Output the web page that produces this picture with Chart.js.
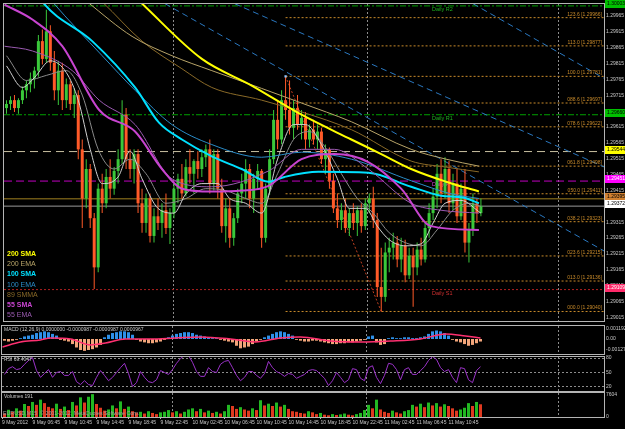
<!DOCTYPE html>
<html>
<head>
<meta charset="utf-8">
<script src="https://cdn.jsdelivr.net/npm/chart.js@4.4.0/dist/chart.umd.min.js"></script>
<style>
  html, body { margin: 0; padding: 0; background: #000; }
  body { width: 625px; height: 429px; position: relative; overflow: hidden; }
  .pane { position: absolute; left: 0; width: 625px; }
</style>
</head>
<body>
<div class="pane" style="top:0;height:325px"><canvas id="main"></canvas></div>
<div class="pane" style="top:325px;height:30px"><canvas id="macd"></canvas></div>
<div class="pane" style="top:355px;height:37px"><canvas id="rsi"></canvas></div>
<div class="pane" style="top:392px;height:37px"><canvas id="vol"></canvas></div>
<script>
// ---- price data (EURUSD, one candle per slot) ----
const open = [
  1.29681,1.29694,1.29706,1.29681,1.29706,1.29737,1.29756,1.29774,1.29799,1.29892,
  1.29836,1.29923,1.29824,1.29737,1.29799,1.29706,1.29756,1.29694,1.29722,1.29551,
  1.29396,1.29489,1.29334,1.29179,1.29427,1.29381,1.29464,1.29427,1.29483,1.29520,
  1.29660,1.29520,1.29489,1.29536,1.29381,1.29319,1.29396,1.29278,1.29340,1.29319,
  1.29359,1.29303,1.29350,1.29427,1.29458,1.29412,1.29495,1.29474,1.29514,1.29489,
  1.29526,1.29551,1.29443,1.29536,1.29427,1.29309,1.29365,1.29272,1.29334,1.29412,
  1.29443,1.29489,1.29396,1.29458,1.29483,1.29272,1.29427,1.29520,1.29644,1.29582,
  1.29706,1.29675,1.29619,1.29681,1.29629,1.29650,1.29582,1.29613,1.29582,1.29607,
  1.29520,1.29551,1.29452,1.29365,1.29328,1.29359,1.29303,1.29350,1.29319,1.29359,
  1.29309,1.29381,1.29396,1.29328,1.29117,1.29086,1.29226,1.29241,1.29257,1.29204,
  1.29247,1.29154,1.29216,1.29179,1.29235,1.29204,1.29303,1.29350,1.29402,1.29474,
  1.29412,1.29489,1.29381,1.29443,1.29340,1.29427,1.29257,1.29297,1.29381,1.29350
];
const high = [
  1.29706,1.29718,1.29722,1.29712,1.29749,1.29768,1.29793,1.29811,1.29911,1.29929,
  1.29991,1.29942,1.29861,1.29830,1.29824,1.29774,1.29768,1.29743,1.29737,1.29582,
  1.29520,1.29505,1.29350,1.29443,1.29474,1.29489,1.29520,1.29495,1.29551,1.29706,
  1.29681,1.29551,1.29551,1.29551,1.29427,1.29412,1.29412,1.29365,1.29396,1.29381,
  1.29412,1.29365,1.29443,1.29474,1.29505,1.29520,1.29551,1.29520,1.29545,1.29551,
  1.29566,1.29582,1.29551,1.29551,1.29458,1.29396,1.29396,1.29350,1.29427,1.29474,
  1.29520,1.29505,1.29474,1.29505,1.29489,1.29443,1.29551,1.29675,1.29706,1.29737,
  1.29781,1.29768,1.29706,1.29722,1.29675,1.29669,1.29629,1.29644,1.29629,1.29619,
  1.29566,1.29557,1.29474,1.29412,1.29381,1.29396,1.29365,1.29381,1.29371,1.29381,
  1.29396,1.29412,1.29433,1.29350,1.29241,1.29257,1.29272,1.29288,1.29278,1.29272,
  1.29266,1.29241,1.29241,1.29257,1.29272,1.29319,1.29381,1.29427,1.29505,1.29520,
  1.29526,1.29514,1.29474,1.29489,1.29443,1.29489,1.29319,1.29412,1.29396,1.29396
];
const low = [
  1.29663,1.29675,1.29669,1.29663,1.29694,1.29712,1.29731,1.29743,1.29780,1.29818,
  1.29824,1.29799,1.29706,1.29691,1.29675,1.29681,1.29675,1.29650,1.29520,1.29303,
  1.29365,1.29303,1.29111,1.29164,1.29350,1.29365,1.29396,1.29408,1.29443,1.29505,
  1.29489,1.29458,1.29443,1.29350,1.29288,1.29288,1.29257,1.29257,1.29297,1.29272,
  1.29284,1.29253,1.29334,1.29381,1.29396,1.29402,1.29443,1.29412,1.29458,1.29464,
  1.29495,1.29412,1.29421,1.29396,1.29288,1.29257,1.29241,1.29247,1.29319,1.29381,
  1.29396,1.29365,1.29350,1.29427,1.29241,1.29257,1.29408,1.29505,1.29551,1.29567,
  1.29644,1.29598,1.29582,1.29613,1.29582,1.29551,1.29557,1.29567,1.29551,1.29505,
  1.29474,1.29427,1.29350,1.29303,1.29297,1.29288,1.29278,1.29297,1.29278,1.29288,
  1.29297,1.29350,1.29303,1.29086,1.29040,1.29071,1.29164,1.29204,1.29179,1.29164,
  1.29132,1.29142,1.29055,1.29154,1.29185,1.29194,1.29272,1.29328,1.29365,1.29381,
  1.29396,1.29350,1.29359,1.29319,1.29328,1.29226,1.29194,1.29278,1.29319,1.29340
];
const close = [
  1.29694,1.29706,1.29681,1.29706,1.29737,1.29756,1.29774,1.29799,1.29892,1.29836,
  1.29923,1.29824,1.29737,1.29799,1.29706,1.29756,1.29694,1.29722,1.29551,1.29396,
  1.29489,1.29334,1.29179,1.29427,1.29381,1.29464,1.29427,1.29483,1.29520,1.29660,
  1.29520,1.29489,1.29536,1.29381,1.29319,1.29396,1.29278,1.29340,1.29319,1.29359,
  1.29303,1.29350,1.29427,1.29458,1.29412,1.29495,1.29474,1.29514,1.29489,1.29526,
  1.29551,1.29443,1.29536,1.29427,1.29309,1.29365,1.29272,1.29334,1.29412,1.29443,
  1.29489,1.29396,1.29458,1.29483,1.29272,1.29427,1.29520,1.29644,1.29582,1.29706,
  1.29675,1.29619,1.29681,1.29629,1.29650,1.29582,1.29613,1.29582,1.29607,1.29520,
  1.29551,1.29452,1.29365,1.29328,1.29359,1.29303,1.29350,1.29319,1.29359,1.29309,
  1.29381,1.29396,1.29328,1.29117,1.29086,1.29226,1.29241,1.29257,1.29204,1.29247,
  1.29154,1.29216,1.29179,1.29235,1.29204,1.29303,1.29350,1.29402,1.29474,1.29412,
  1.29489,1.29381,1.29443,1.29340,1.29427,1.29257,1.29297,1.29381,1.29350,1.29372
];
const volume = [
  1200,2500,1800,3000,2200,4500,3800,5200,4200,6000,4800,3500,
  3000,4600,2800,3600,2400,5200,4000,6800,5000,7000,7900,4500,
  3200,2200,2600,4000,3000,5400,2800,3600,2000,
  1500,1800,1200,2000,1400,1000,1600,1800,2400,1600,2000,1200,1800,2600,
  3000,2000,2800,1600,2200,1400,1800,1200,2000,4200,
  3800,2800,3400,2600,2200,3000,2400,5800,4000,
  4600,3800,5000,3600,4200,2800,2000,1800,1400,1200,2000,1600,1000,1400,
  800,600,1000,700,900,1200,800,600,1000,1400,2400,4200,3000,6000,
  2600,1800,1400,2200,1600,1200,2000,2400,4200,3600,4600,3400,
  5000,4000,4800,3600,4400,3800,3000,2200,2600,3200,4800,3800,5200,4400
];
const macdHist = [
  -0.0002,-0.0003,-0.0002,-0.0001,
  0.0001,0.0003,0.0004,0.0005,0.0007,0.0008,0.0009,0.0008,0.0006,0.0004,
  -0.0001,-0.0002,-0.0003,-0.0006,-0.0010,-0.0013,-0.0014,-0.0013,-0.0012,-0.0010,-0.0007,
  0.0002,0.0005,0.0007,0.0008,0.0009,0.0009,0.0008,0.0005,
  -0.0001,-0.0003,-0.0004,-0.0005,-0.0005,-0.0004,-0.0003,-0.0001,
  0.0002,0.0004,0.0006,0.0007,0.0008,0.0008,0.0007,0.0005,0.0004,0.0003,
  0.0002,0.0001,0.0001,-0.0001,-0.0002,-0.0003,
  -0.0004,-0.0008,-0.0011,-0.0010,-0.0009,-0.0006,-0.0003,-0.0001,
  0.0002,0.0004,0.0006,0.0008,0.0009,0.0008,0.0006,0.0004,
  -0.0001,-0.0002,-0.0003,-0.0003,-0.0002,-0.0002,-0.0003,
  -0.0004,-0.0005,-0.0006,-0.0006,-0.0005,-0.0005,-0.0004,-0.0004,-0.0003,-0.0002,-0.0001,
  0.0003,0.0004,-0.0004,-0.0007,-0.0006,
  0.0001,0.0002,0.0001,0.0001,0.0002,0.0002,0.0001,0.0001,0.0002,0.0003,
  0.0006,0.0009,0.0010,0.0009,0.0007,0.0004,
  -0.0001,-0.0003,-0.0004,-0.0006,-0.0008,-0.0007,-0.0005,-0.0003
];
const macdSignal = [[-0.5,-0.00094],[4,-0.00035],[9,-0.00012],[11.5,0.00012],[16.5,0],[21.5,-0.00071],
  [25.25,-0.00047],[30.25,0],[36.5,0],[42.75,0.00012],[49,0.00024],[56.5,0],[62.75,-0.00035],[69,0.00012],
  [74,0.00024],[81.5,-0.00024],[89,-0.00035],[96.5,-0.00024],[104,0],[110.25,0.00059],[115.25,0.00035],[119,0.00012]];
const rsi = [
  46,58,62,56,58,67,75,81,54,40,48,56,40,50,52,44,44,52,31,25,
  33,25,23,40,54,44,33,40,50,60,69,48,21,29,52,40,31,29,35,54,
  50,46,56,69,79,85,85,71,52,42,42,60,52,50,67,73,75,60,44,33,
  40,52,52,44,38,48,73,60,52,48,42,48,46,38,42,46,54,56,54,46,
  38,23,33,50,40,29,35,58,56,38,33,60,64,40,27,44,69,67,56,35,
  56,60,46,46,54,62,75,83,77,60,52,56,40,29,60,58,35,29,54,62
];

// ---- moving averages, sampled along the bar axis: [bar, price] ----
const sma200 = [[28,1.30080],[33.5,1.30016],[49,1.29836],[61.5,1.29752],[74,1.29660],[86.5,1.29582],[94,1.29536],[101.5,1.29489],[110.25,1.29449],[118.5,1.29418]];
const ema200 = [[16,1.30060],[20.25,1.30016],[31.5,1.29907],[41.5,1.29846],[51.5,1.29799],[64,1.29743],[74,1.29697],[86.5,1.29638],[101.5,1.29551],[110.25,1.29520],[118.5,1.29498]];
const smma89 = [[20,1.30060],[24,1.30016],[34,1.29892],[44,1.29805],[51.5,1.29746],[64,1.29706],[74,1.29669],[86.5,1.29613],[101.5,1.29514],[110.25,1.29495],[118.5,1.29480]];
const sma100 = [[6,1.30080],[9,1.30016],[21.5,1.29892],[32.25,1.29746],[38.25,1.29635],[44,1.29582],[51.5,1.29529],[59,1.29489],[65.75,1.29449],[69.75,1.29464],[78.25,1.29480],[90.75,1.29477],[101.5,1.29433],[109,1.29405],[114.5,1.29399],[118.5,1.29381]];
const ema100 = [[8,1.30070],[11.5,1.30016],[24,1.29846],[32.25,1.29737],[41.5,1.29629],[51.5,1.29566],[64,1.29526],[74,1.29542],[86.5,1.29520],[101.5,1.29452],[111.5,1.29411],[118.5,1.29396]];
const sma55 = [[-0.5,1.30007],[6.5,1.29960],[14,1.29876],[23.25,1.29675],[32.25,1.29607],[39,1.29489],[44,1.29427],[51.5,1.29418],[59,1.29421],[65.75,1.29436],[74,1.29520],[82.25,1.29536],[90.75,1.29511],[99,1.29427],[106.5,1.29309],[118.5,1.29297]];
const ema55 = [[-0.5,1.29876],[6.5,1.29861],[16.5,1.29799],[23.25,1.29706],[32.25,1.29629],[41.5,1.29458],[51.5,1.29433],[65.75,1.29483],[74,1.29551],[82.25,1.29551],[90.75,1.29489],[101.5,1.29381],[109,1.29359],[118.5,1.29350]];
const fastA = [[0,1.29814],[4,1.29746],[7,1.29777],[11,1.29830],[15,1.29793],[18,1.29706],[21,1.29551],[24,1.29443],[28,1.29464],[31,1.29545],[34,1.29458],[38,1.29365],[42,1.29350],[45,1.29411],[49,1.29443],[53,1.29443],[56,1.29396],[60,1.29381],[64,1.29350],[68,1.29520],[72,1.29629],[75,1.29629],[79,1.29566],[83,1.29458],[86,1.29365],[90,1.29365],[93,1.29309],[96,1.29266],[100,1.29247],[104,1.29253],[107,1.29319],[110,1.29381],[114,1.29390],[119,1.29350]];
const fastB = [[0,1.29846],[5,1.29768],[10,1.29784],[15,1.29799],[19,1.29722],[23,1.29551],[27,1.29489],[31,1.29520],[35,1.29474],[40,1.29381],[45,1.29396],[50,1.29427],[55,1.29421],[60,1.29396],[64,1.29381],[68,1.29474],[72,1.29582],[76,1.29607],[80,1.29557],[84,1.29474],[88,1.29396],[92,1.29350],[96,1.29288],[100,1.29257],[104,1.29247],[108,1.29297],[112,1.29359],[116,1.29381],[119,1.29371]];

// ---- drawn objects ----
const trendA = [[39.75,1.30010],[150,1.29230]];
const trendB = [[57.25,1.30010],[150,1.29495]];
const trendC = [[117,1.30010],[150,1.29774]];
const fibFrom = 70;
const fibDiag = [[70,1.29781],[94,1.29040]];
const fibLabels = ['123.6','113.0','100.0','088.6','078.6','061.8','050.0','038.2','023.6','013.0','000.0'];
const fibPrices = [1.29966,1.29877,1.29781,1.29697,1.29622,1.29498,1.29411,1.29323,1.29215,1.29136,1.29040];
const levelNames  = ['Daily R2','Daily R1','','Daily P','','','Daily S1'];
const levelPrices = [1.30003,1.29660,1.29544,1.29451,1.29395,1.29372,1.29109];

// ---- axes ----
const priceTicks = [1.29965,1.29915,1.29865,1.29815,1.29765,1.29715,1.29665,1.29615,1.29565,1.29515,
  1.29465,1.29415,1.29365,1.29315,1.29265,1.29215,1.29165,1.29115,1.29065,1.29015];
const macdTicks = [0.001192, 0, -0.001279];
const macdTickLabels = ['0.001192','0.00','-0.001279'];
const rsiTicks = [80, 50, 20];
const volTicks = [7604, 0];
const timeLabels = ['9 May 2012','9 May 06:45','9 May 10:45','9 May 14:45','9 May 18:45','9 May 22:45',
  '10 May 02:45','10 May 06:45','10 May 10:45','10 May 14:45','10 May 18:45','10 May 22:45',
  '11 May 02:45','11 May 06:45','11 May 10:45'];
const timeTickAt = [-0.625,7,15,23,31,39,47,55,63,71,79,87,95,103,111];
const gridAt = [42, 90.5, 138.5];
const xMin = -0.625, xMax = 149.875;

Chart.defaults.font.family = 'Liberation Sans';
Chart.defaults.animation = false;
Chart.defaults.events = [];
Chart.defaults.plugins.legend.display = false;
Chart.defaults.plugins.tooltip.enabled = false;

const GREEN = '#3ac83a', RED = '#ff5a28';
const pts = arr => arr.map(p => ({ x: p[0], y: p[1] }));
const bars = close.map((c, i) => i);
const candleColor = bars.map(i => close[i] >= open[i] ? GREEN : RED);

function drawText(chart, t) {
  const ctx = chart.ctx;
  const y = t.price !== undefined ? chart.scales.y.getPixelForValue(t.price) + (t.dy || 0) : t.py;
  ctx.font = (t.bold ? 'bold ' : '') + t.size + 'px "Liberation Sans"';
  ctx.fillStyle = t.color;
  ctx.textAlign = t.align || 'left';
  ctx.textBaseline = t.base || 'middle';
  ctx.fillText(t.text, t.px, y);
}

const decor = {
  id: 'decor',
  beforeDatasetsDraw(chart, args, o) {
    const { ctx, chartArea: a, scales: { x, y } } = chart;
    ctx.save();
    ctx.lineWidth = 1;
    ctx.strokeStyle = '#8c8c8c';
    ctx.setLineDash([2, 2]);
    gridAt.forEach(v => {
      const px = Math.floor(x.getPixelForValue(v)) + 0.5;
      ctx.beginPath(); ctx.moveTo(px, a.top); ctx.lineTo(px, a.bottom); ctx.stroke();
    });
    (o.levels || []).forEach(v => {
      const py = Math.floor(y.getPixelForValue(v)) + 0.5;
      ctx.beginPath(); ctx.moveTo(a.left, py); ctx.lineTo(a.right, py); ctx.stroke();
    });
    ctx.setLineDash([]);
    (o.under || []).forEach(t => drawText(chart, t));
    ctx.restore();
  },
  afterDatasetsDraw(chart, args, o) {
    chart.ctx.save();
    (o.over || []).forEach(t => drawText(chart, t));
    chart.ctx.restore();
  },
  afterDraw(chart, args, o) {
    const { ctx, chartArea: a, scales: { y } } = chart;
    ctx.save();
    ctx.strokeStyle = '#b4b4b4';
    ctx.lineWidth = 1;
    ctx.strokeRect(a.left - 0.5, a.top - 0.5, a.right - a.left + 1, a.bottom - a.top + 1);
    (o.boxes || []).forEach(b => {
      const py = Math.round(y.getPixelForValue(b.price)) - 2;
      ctx.fillStyle = b.bg;
      ctx.fillRect(a.right + 1, py - 4, 30, 8);
      ctx.font = '5px "Liberation Sans"';
      ctx.fillStyle = b.fg;
      ctx.textAlign = 'left';
      ctx.textBaseline = 'middle';
      ctx.fillText(b.price.toFixed(5), a.right + 3, py);
    });
    ctx.restore();
  }
};

function xAxis(show) {
  const s = { type: 'linear', min: xMin, max: xMax, display: show, offset: false, grid: { offset: false } };
  if (show) {
    Object.assign(s, {
      afterFit: sc => { sc.height = 12; sc.paddingLeft = 0; sc.paddingRight = 0; },
      afterBuildTicks: sc => { sc.ticks = timeTickAt.map(v => ({ value: v })); },
      grid: { display: true, offset: false, drawOnChartArea: false, drawTicks: true, tickLength: 2, color: '#b4b4b4' },
      border: { display: false },
      ticks: { color: '#c8c8c8', font: { size: 5 }, padding: 1, autoSkip: false, maxRotation: 0, minRotation: 0,
               align: 'start', callback: (v, i) => timeLabels[i] }
    });
  }
  return s;
}
function yAxis(min, max, values, fmt, shift) {
  return {
    position: 'right', min, max,
    afterFit: sc => { sc.width = 21; sc.paddingTop = 0; sc.paddingBottom = 0; },
    afterBuildTicks: sc => { sc.ticks = values.map(v => ({ value: v })); },
    grid: { display: false, drawTicks: false, tickLength: 0 }, border: { display: false },
    ticks: { color: '#c8c8c8', font: { size: 5 }, padding: 2, autoSkip: false, labelOffset: shift || 0,
             callback: (v, i) => fmt(v, i) }
  };
}
const line = (data, color, width, order, extra) => Object.assign({
  type: 'line', data: pts(data), borderColor: color, borderWidth: width, pointRadius: 0,
  cubicInterpolationMode: 'monotone', order
}, extra || {});
const flat = (price, color, dash, order) => ({
  type: 'line', data: [{ x: xMin, y: price }, { x: xMax, y: price }], borderColor: color,
  borderWidth: 1, borderDash: dash, pointRadius: 0, order
});

// ---- main price pane ----
const levelStyle = [
  ['#00a000', [6, 2, 2, 2]], ['#00a000', [6, 2, 2, 2]], ['#c8bfa0', [8, 5]], ['#c000c0', [8, 4]],
  ['#a08020', []], ['#9a9a9a', []], ['#b02020', [2, 2]]
];
const boxStyle = [
  ['#00c000', '#000'], ['#00c000', '#000'], ['#ffff00', '#000'], ['#ff00ff', '#fff'],
  ['#d08030', '#000'], ['#ffffff', '#000'], ['#ff2a6a', '#fff']
];
const nameColor = ['#20b020', '#20b020', '', '#e040e0', '', '', '#d03030'];

const mainSets = [
  line(sma55, '#c844d0', 2, 1), line(ema55, '#9a5ab0', 1, 1),
  line(sma100, '#00e0ff', 2, 1), line(ema100, '#2a8cc8', 1, 1),
  line(sma200, '#ffff00', 2, 1), line(ema200, '#b8a468', 1, 1), line(smma89, '#8a6a28', 1, 1),
  line(fastA, '#d0d0d0', 1, 2), line(fastB, '#8a8a8a', 1, 2),
  { type: 'bar', data: bars.map(i => ({ x: i, y: [open[i], close[i]] })), backgroundColor: candleColor,
    barThickness: 3, grouped: false, inflateAmount: 0, minBarLength: 1, order: 3 },
  { type: 'bar', data: bars.map(i => ({ x: i, y: [low[i], high[i]] })), backgroundColor: candleColor,
    barThickness: 1, grouped: false, inflateAmount: 0, order: 4 },
  line(trendA, '#2a78c0', 1, 5, { borderDash: [6, 4], cubicInterpolationMode: 'default', tension: 0 }),
  line(trendB, '#2a78c0', 1, 5, { borderDash: [6, 4], cubicInterpolationMode: 'default', tension: 0 }),
  line(trendC, '#2a78c0', 1, 5, { borderDash: [6, 4], cubicInterpolationMode: 'default', tension: 0 }),
  line(fibDiag, '#c04020', 1, 6, { borderDash: [2, 2], cubicInterpolationMode: 'default', tension: 0 }),
  { type: 'line', data: pts([fibDiag[0]]), showLine: false, pointStyle: 'rect', pointRadius: 1.6,
    backgroundColor: '#8cc4ff', borderWidth: 0, order: 0 }
];
fibPrices.forEach(p => mainSets.push({
  type: 'line', data: [{ x: fibFrom, y: p }, { x: xMax, y: p }], borderColor: '#c88a2a', borderWidth: 1,
  borderDash: [2, 2], pointRadius: 0, order: 6
}));
levelPrices.forEach((p, i) => mainSets.push(flat(p, levelStyle[i][0], levelStyle[i][1], 7)));

const legendNames = ['200 SMA', '200 EMA', '100 SMA', '100 EMA', '89 SMMA', '55 SMA', '55 EMA'];
const legendColor = ['#ffff00', '#b8a468', '#00e0ff', '#2a8cc8', '#8a6a28', '#c844d0', '#9a5ab0'];
const legendBold = [true, false, true, false, false, true, false];
const over = legendNames.map((n, i) => ({ text: n, px: 7, py: 254 + i * 10.2, size: 7, bold: legendBold[i], color: legendColor[i] }));
fibLabels.forEach((f, i) => over.push({ text: f + ' [' + fibPrices[i].toFixed(5) + ']', price: fibPrices[i], dy: -1,
  px: 602, align: 'right', base: 'bottom', size: 5, color: '#c88a2a' }));
const under = [];
levelNames.forEach((n, i) => { if (n) under.push({ text: n, price: levelPrices[i], dy: 1, px: 432, base: 'top', size: 5.5, color: nameColor[i] }); });

new Chart(document.getElementById('main'), {
  type: 'bar',
  data: { datasets: mainSets },
  options: {
    responsive: true, maintainAspectRatio: false,
    layout: { padding: { left: 2, top: 2, bottom: 1, right: 0 } },
    scales: { x: xAxis(false), y: yAxis(1.29010, 1.30009, priceTicks, v => v.toFixed(5), -2) },
    plugins: { decor: { over, under, boxes: levelPrices.map((p, i) => ({ price: p, bg: boxStyle[i][0], fg: boxStyle[i][1] })) } }
  },
  plugins: [decor]
});

// ---- MACD pane ----
new Chart(document.getElementById('macd'), {
  type: 'bar',
  data: { datasets: [
    line(macdSignal, '#ff3070', 1.5, 1),
    { type: 'bar', data: bars.map(i => ({ x: i, y: macdHist[i] })), barThickness: 3, inflateAmount: 0, order: 2,
      backgroundColor: macdHist.map(v => v >= 0 ? '#2e90e8' : '#f2a57a') }
  ] },
  options: {
    responsive: true, maintainAspectRatio: false,
    layout: { padding: { left: 2, top: 1, bottom: 1, right: 0 } },
    scales: { x: xAxis(false), y: yAxis(-0.00177, 0.00153, macdTicks, (v, i) => macdTickLabels[i]) },
    plugins: { decor: { over: [{ text: 'MACD (12,26,9) 0.0000000 -0.0000987 -0.0000987 0.0000967', px: 4, py: 5, size: 5, color: '#c8c8c8' }] } }
  },
  plugins: [decor]
});

// ---- RSI pane ----
new Chart(document.getElementById('rsi'), {
  type: 'line',
  data: { datasets: [{ data: bars.map(i => ({ x: i, y: rsi[i] })), borderColor: '#9a32c8', borderWidth: 1, pointRadius: 0, tension: 0 }] },
  options: {
    responsive: true, maintainAspectRatio: false,
    layout: { padding: { left: 2, top: 2, bottom: 1, right: 0 } },
    scales: { x: xAxis(false), y: yAxis(11.7, 82.1, rsiTicks, v => String(v)) },
    plugins: { decor: { levels: rsiTicks, over: [{ text: 'RSI 69.4047', px: 4, py: 5, size: 5, color: '#c8c8c8' }] } }
  },
  plugins: [decor]
});

// ---- Volume pane ----
new Chart(document.getElementById('vol'), {
  type: 'bar',
  data: { datasets: [{ data: bars.map(i => ({ x: i, y: volume[i] })), barThickness: 3, inflateAmount: 0,
    backgroundColor: volume.map((v, i) => i > 0 && v > volume[i - 1] ? '#22b822' : '#e03a20') }] },
  options: {
    responsive: true, maintainAspectRatio: false,
    layout: { padding: { left: 2, top: 1, bottom: 0, right: 0 } },
    scales: { x: xAxis(true), y: yAxis(0, 8300, volTicks, v => String(v)) },
    plugins: { decor: { over: [
      { text: 'Volumes 191', px: 4, py: 5, size: 5, color: '#c8c8c8' },
      { text: 'EURUSD,M15  \u00a9 2001-2012, MetaQuotes Software Corp.', px: 3, py: 22, size: 5.3, color: '#a0a0a0' }
    ] } }
  },
  plugins: [decor]
});
</script>
</body>
</html>
